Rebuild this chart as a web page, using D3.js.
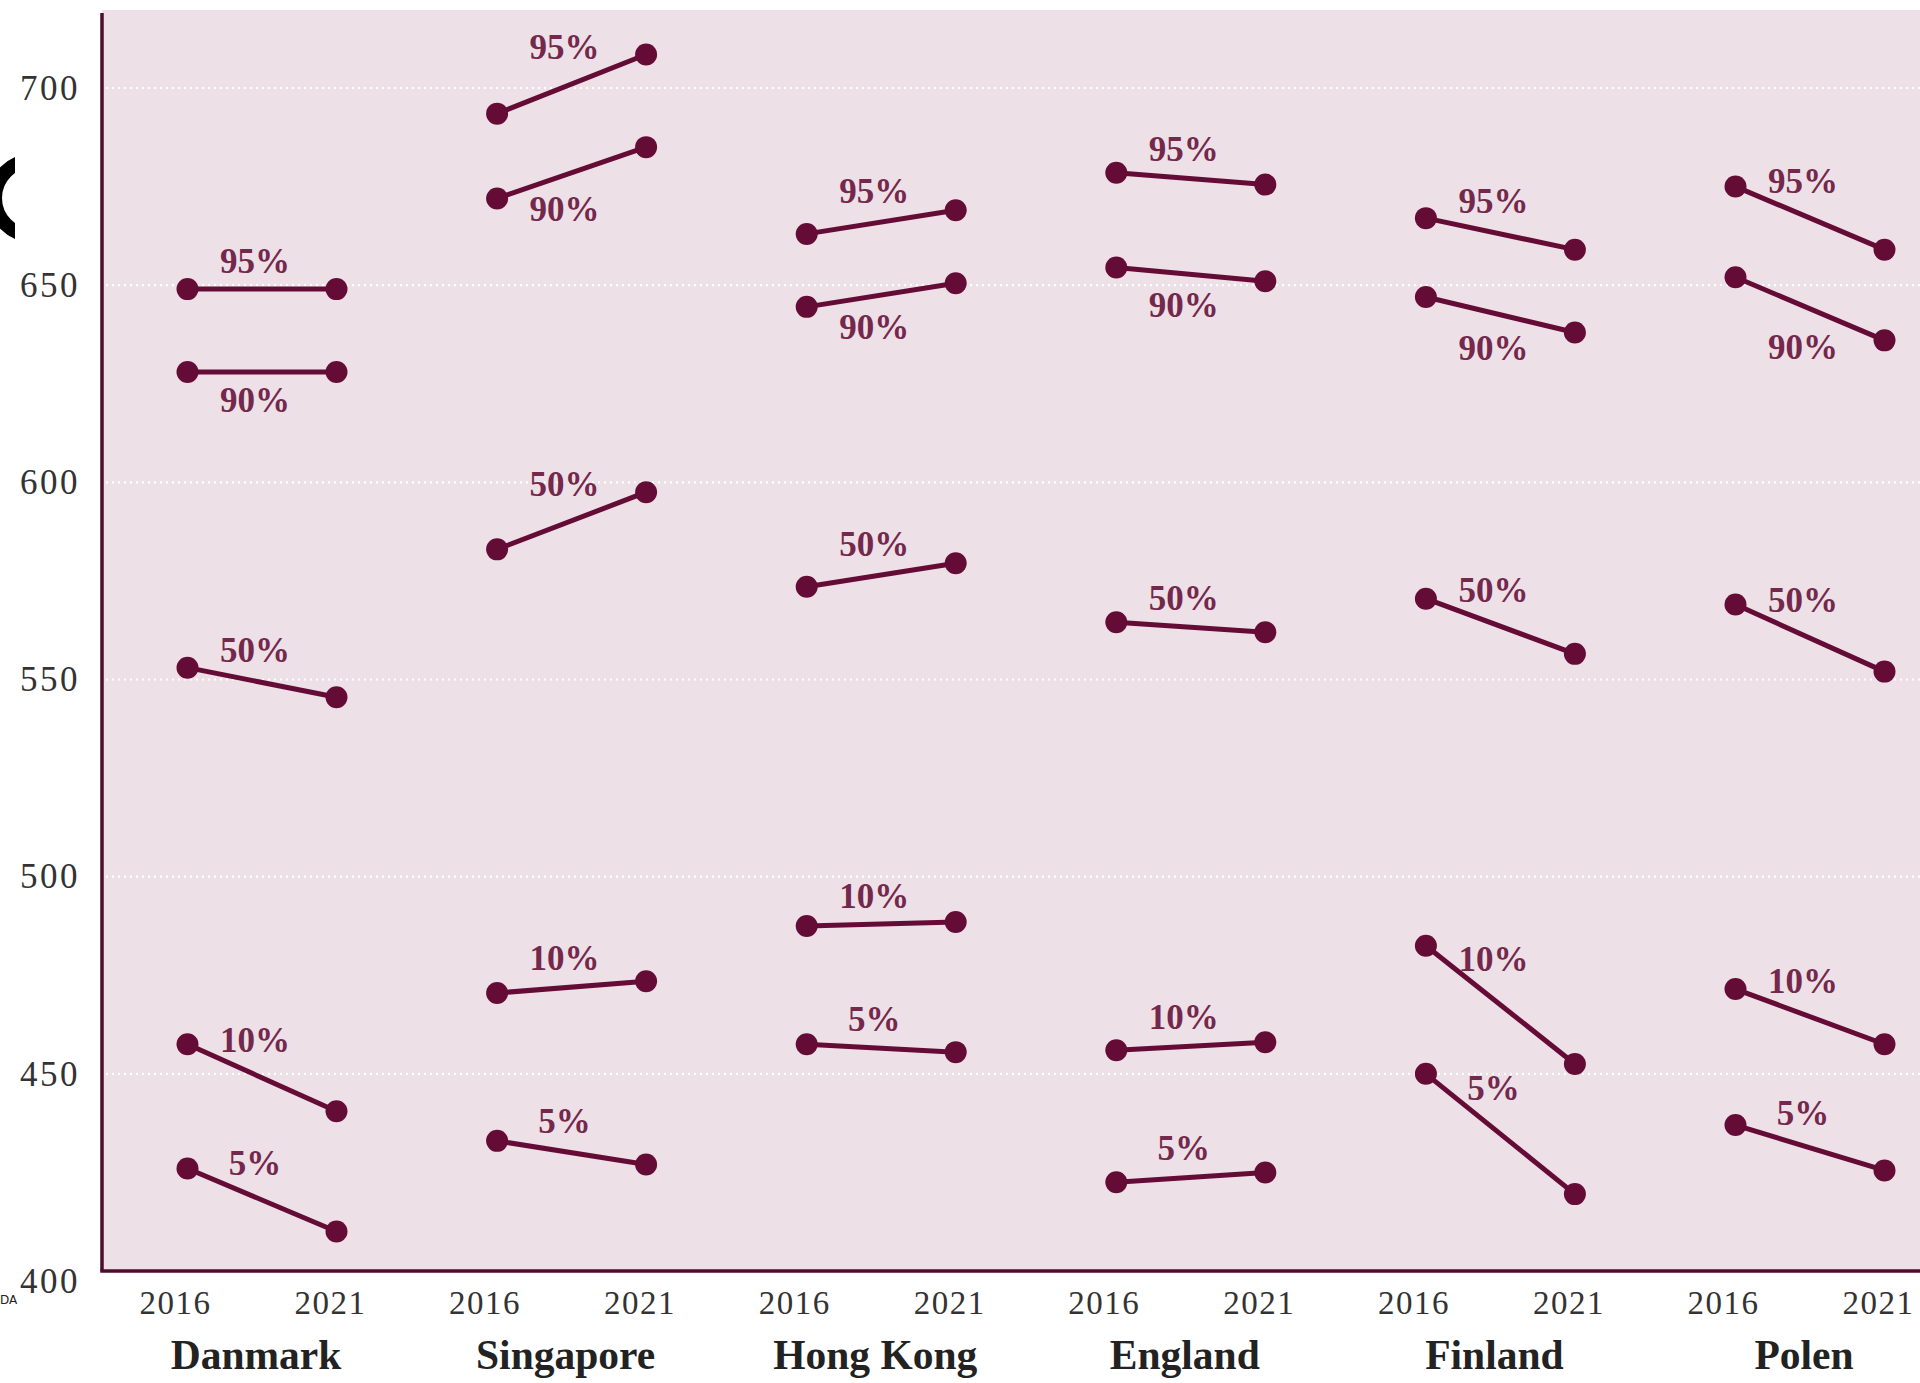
<!DOCTYPE html>
<html>
<head>
<meta charset="utf-8">
<script src="https://cdn.jsdelivr.net/npm/d3@7"></script>
<style>
  body { margin: 0; background: #fff; }
  svg { display: block; }
</style>
</head>
<body>
<svg id="chart" width="1920" height="1383"></svg>
<script>
// ── Data ───────────────────────────────────────────────────────────
const countries   = ['Danmark', 'Singapore', 'Hong Kong', 'England', 'Finland', 'Polen'];
const years       = ['2016', '2021'];
const percentiles = ['95%', '90%', '50%', '10%', '5%'];
const yTicks      = [400, 450, 500, 550, 600, 650, 700];

// score per percentile (95, 90, 50, 10, 5) as [2016, 2021]
const danmark   = [[649, 649], [628, 628], [553, 545.5], [457.5, 440.5], [426, 410]];
const singapore = [[693.5, 708.5], [672, 685], [583, 597.5], [470.5, 473.5], [433, 427]];
const hongKong  = [[663, 669], [644.5, 650.5], [573.5, 579.5], [487.5, 488.5], [457.5, 455.5]];
const england   = [[678.5, 675.5], [654.5, 651], [564.5, 562], [456, 458], [422.5, 425]];
const finland   = [[667, 659], [647, 638], [570.5, 556.5], [482.5, 452.5], [450, 419.5]];
const polen     = [[675, 659], [652, 636], [569, 552], [471.5, 457.5], [437, 425.5]];

const scores = [danmark, singapore, hongKong, england, finland, polen];

// ── Layout ─────────────────────────────────────────────────────────
const W = 1920, H = 1383;
const PLOT = { left: 102, top: 10, bottom: 1271, right: W };
const YEAR_OFF = 74.5;

const mark   = '#650c36';
const labelC = '#74284c';
const bg     = '#ede0e7';

const svg = d3.select('#chart');

const y = d3.scaleLinear().domain([400, 700]).range([PLOT.bottom, 88]);
const xc = d3.scalePoint().domain(countries).range([262, 1810]);
const xy = (c, yr) => xc(c) + (yr === years[0] ? -YEAR_OFF : YEAR_OFF);

// background
svg.append('rect')
  .attr('x', PLOT.left).attr('y', PLOT.top)
  .attr('width', PLOT.right - PLOT.left).attr('height', PLOT.bottom - PLOT.top)
  .attr('fill', bg);

// dotted gridlines
svg.append('g')
  .selectAll('line')
  .data(yTicks.filter(t => t > 400))
  .join('line')
  .attr('x1', PLOT.left + 4).attr('x2', PLOT.right)
  .attr('y1', d => y(d)).attr('y2', d => y(d))
  .attr('stroke', '#fff')
  .attr('stroke-width', 2.2)
  .attr('stroke-dasharray', '2,4');

// y axis labels
const yAxis = d3.axisLeft(y).tickValues(yTicks).tickSize(0).tickPadding(0);
const ya = svg.append('g')
  .attr('transform', `translate(${PLOT.left - 22},0)`)
  .call(yAxis);
ya.select('.domain').remove();
ya.selectAll('text')
  .attr('font-family', '"Liberation Serif", serif')
  .attr('font-size', 35)
  .attr('letter-spacing', 2.5)
  .attr('fill', '#333')
  .attr('dy', d => d === 400 ? '0.62em' : '0.32em');

// axis lines
svg.append('line')
  .attr('x1', PLOT.left).attr('x2', PLOT.left)
  .attr('y1', 13).attr('y2', PLOT.bottom)
  .attr('stroke', '#4e0d2c').attr('stroke-width', 3.5);
svg.append('line')
  .attr('x1', PLOT.left - 1.75).attr('x2', PLOT.right)
  .attr('y1', PLOT.bottom).attr('y2', PLOT.bottom)
  .attr('stroke', '#4e0d2c').attr('stroke-width', 3.5);

// ── Slopes ─────────────────────────────────────────────────────────
const g = svg.append('g');

countries.forEach((c, ci) => {
  const x0 = xy(c, years[0]), x1 = xy(c, years[1]);
  scores[ci].forEach((pair, pi) => {
    const y0 = y(pair[0]), y1 = y(pair[1]);

    g.append('line')
      .attr('x1', x0).attr('x2', x1)
      .attr('y1', y0).attr('y2', y1)
      .attr('stroke', mark).attr('stroke-width', 5);

    g.selectAll(null)
      .data([[x0, y0], [x1, y1]])
      .join('circle')
      .attr('cx', d => d[0]).attr('cy', d => d[1])
      .attr('r', 11)
      .attr('fill', mark);

    const below = percentiles[pi] === '90%';
    const midY = (y0 + y1) / 2;
    const off = 28 + 0.15 * Math.abs(y1 - y0);
    g.append('text')
      .attr('x', (x0 + x1) / 2 - 7)
      .attr('y', below ? midY + off : midY - off)
      .attr('dy', '0.35em')
      .attr('text-anchor', 'middle')
      .attr('font-family', '"Liberation Serif", serif')
      .attr('font-weight', 'bold')
      .attr('font-size', 35)
      .attr('fill', labelC)
      .text(percentiles[pi]);
  });

  // year labels
  years.forEach((yr, yi) => {
    svg.append('text')
      .attr('x', xy(c, yr) - (yi === 0 ? 12 : 6))
      .attr('y', 1314)
      .attr('text-anchor', 'middle')
      .attr('font-family', '"Liberation Serif", serif')
      .attr('font-size', 33)
      .attr('letter-spacing', 1.5)
      .attr('fill', '#333')
      .text(yr);
  });

  // country labels
  svg.append('text')
    .attr('x', xc(c) - 6)
    .attr('y', 1369)
    .attr('text-anchor', 'middle')
    .attr('font-family', '"Liberation Serif", serif')
    .attr('font-weight', 'bold')
    .attr('font-size', 41.5)
    .attr('fill', '#222')
    .text(c);
});

// cropped fragments at the left edge of the original picture
svg.append('clipPath').attr('id', 'edge')
  .append('rect').attr('x', 0).attr('y', 0).attr('width', 15).attr('height', H);
svg.append('circle')
  .attr('cx', 32.5).attr('cy', 198).attr('r', 37.5)
  .attr('fill', 'none').attr('stroke', '#000').attr('stroke-width', 14)
  .attr('clip-path', 'url(#edge)');
svg.append('text')
  .attr('x', 0).attr('y', 1304)
  .attr('font-family', '"DejaVu Sans", sans-serif')
  .attr('font-size', 12)
  .attr('fill', '#222')
  .text('DA');
</script>
</body>
</html>
